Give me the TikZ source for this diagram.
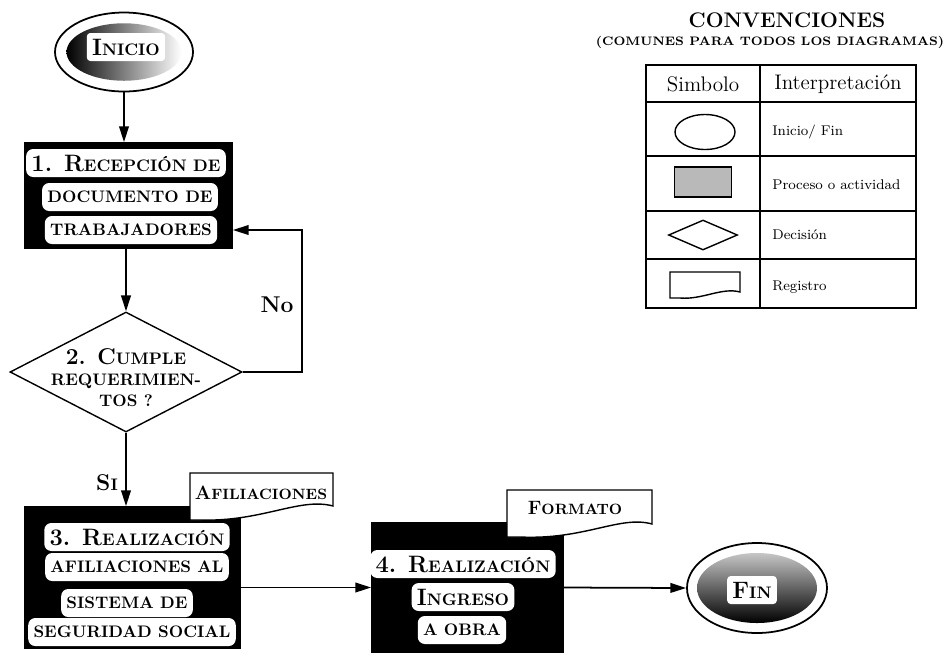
\documentclass[tikz,border=0pt]{standalone}
\usepackage{fontspec}
\usetikzlibrary{arrows.meta,shapes.geometric,fit}

% versalitas hechas a mano: mayusculas en cuerpo menor
\newcommand{\vers}[1]{{\fontsize{9.5}{11}\selectfont #1}}
\newcommand{\versd}[1]{{\fontsize{8.5}{10}\selectfont #1}}

\begin{document}
\begin{tikzpicture}[
    x=0.2mm, y=-0.2mm,
    % Cajas de proceso con fondo negro
    proceso/.style={draw=black, fill=black, inner sep=0pt, line width=1pt},
    % Renglones blancos dentro de las cajas
    renglon/.style={fill=white, rounded corners=4pt, inner xsep=3pt, inner ysep=0pt,
        minimum height=5.6mm, font=\bfseries\fontsize{13.5}{15}\selectfont},
    texto/.style={font=\bfseries\fontsize{13}{12}\selectfont, inner sep=1pt},
    terminal/.style={ellipse, draw, line width=1pt, fill=white,
        minimum width=27.6mm, minimum height=15.8mm},
    decision/.style={diamond, draw, line width=0.8pt, fill=white,
        minimum width=46.4mm, minimum height=24mm, inner sep=0pt},
    registro/.style={draw, line width=0.8pt, fill=white},
    flecha/.style={-{Triangle[length=9pt,width=5.5pt]}, line width=1pt},
    tabla/.style={line width=0.8pt},
    etiqueta/.style={font=\fontsize{8}{10}\selectfont, anchor=west, inner sep=0pt}
]
    \useasboundingbox (0,0) rectangle (945,657);

    % Inicio
    \node[terminal] (inicio) at (124,52) {};
    \node[ellipse, minimum width=23mm, minimum height=11.5mm, left color=black, right color=white] at (inicio) {};
    \node[renglon, rounded corners=2pt] (tinicio) at (126,47) {I\vers{NICIO}};

    % 1. Recepcion de documentos
    \node[proceso, fit={(25,143) (232,248)}] (p1) {};
    \node[renglon] at (126,163) {1. R\vers{ECEPCIÓN DE}};
    \node[renglon] at (130,197) {\vers{DOCUMENTO DE}};
    \node[renglon] at (131,230) {\vers{TRABAJADORES}};

    % 2. Decision
    \node[decision] (d2) at (126,372) {};
    \node[texto, align=center] (td2) at (126,378) {2. C\vers{UMPLE}\\ \vers{REQUERIMIEN-}\\ \vers{TOS ?}};

    % 3. Afiliaciones
    \node[proceso, fit={(25,507) (240,648)}] (p3) {};
    \node[renglon] at (137,537) {3. R\vers{EALIZACIÓN}};
    \node[renglon] at (137,567) {\vers{AFILIACIONES AL}};
    \node[renglon] at (127,603) {\vers{SISTEMA DE}};
    \node[renglon] at (132,632) {\vers{SEGURIDAD SOCIAL}};

    % registro de afiliaciones
    \draw[registro] (190,473) -- (333,473) -- (333,506)
        .. controls (300,497) and (262,522) .. (200,520) -- (190,520) -- cycle;
    \node[texto, font=\bfseries\fontsize{11}{12}\selectfont] (afil) at (261,493) {A\versd{FILIACIONES}};

    % 4. Ingreso a obra
    \node[proceso, fit={(372,523) (563,652)}] (p4) {};
    \node[renglon] at (463,564) {4. R\vers{EALIZACIÓN}};
    \node[renglon] at (463,597) {I\vers{NGRESO}};
    \node[renglon] at (462,630) {\vers{A OBRA}};

    % registro formato
    \draw[registro] (507,490) -- (652,490) -- (652,524)
        .. controls (620,515) and (585,540) .. (520,537) -- (507,537) -- cycle;
    \node[texto, font=\bfseries\fontsize{11}{12}\selectfont] (form) at (575,508) {F\versd{ORMATO}};

    % Fin
    \node[terminal, minimum width=28mm, minimum height=18mm] (fin) at (757,588) {};
    \node[ellipse, minimum width=24mm, minimum height=14mm, top color=gray!45, bottom color=black] at (fin) {};
    \node[renglon, rounded corners=2pt] (tfin) at (752,590) {F\vers{IN}};

    % Conectores
    \draw[flecha] (inicio.south) -- (inicio.south |- p1.north);
    \draw[flecha] (p1.south -| d2.north) -- (d2.north);
    \coordinate (retorno) at (302,230);
    \draw[flecha] (d2.east) -| (retorno) -- (retorno -| p1.east);
    \node[texto] (no) at (277,305) {No};
    \draw[flecha] (d2.south) -- (d2.south |- p3.north);
    \node[texto] (si) at (107,483) {S\vers{I}};
    \draw[flecha] (p3.east |- p4.west) -- (p4.west);
    \draw[flecha] (p4.east) -- (fin.west);

    % Convenciones
    \node[font=\bfseries\fontsize{12}{14}\selectfont] (conv) at (787,20) {CONVENCIONES};
    \node[font=\bfseries\fontsize{7}{9}\selectfont, inner sep=0pt] (comunes) at (770,42) {(COMUNES PARA TODOS LOS DIAGRAMAS)};

    \draw[tabla] (646,65) rectangle (916,308);
    \foreach \y in {102,156,211,259}
        \draw[tabla] (646,\y) -- (916,\y);
    \draw[tabla] (760,65) -- (760,308);
    \node[font=\fontsize{12}{14}\selectfont] (hsim) at (703,84) {Simbolo};
    \node[font=\fontsize{12}{14}\selectfont] (hint) at (838,84) {Interpretación};

    \node[ellipse, draw, line width=0.8pt, minimum width=12mm, minimum height=7mm] (s1) at (705,132) {};
    \node[etiqueta] (e1) at (772,132) {Inicio/ Fin};
    \node[rectangle, draw, line width=0.8pt, fill=gray!55, minimum width=11.4mm, minimum height=6mm] (s2) at (703,182) {};
    \node[etiqueta] (e2) at (772,185) {Proceso o actividad};
    \node[diamond, draw, line width=0.8pt, minimum width=13.8mm, minimum height=6mm, inner sep=0pt] (s3) at (703,235) {};
    \node[etiqueta] (e3) at (772,235) {Decisión};
    \draw[registro] (670,272) -- (740,272) -- (740,292)
        .. controls (722,287) and (702,300) .. (680,298) -- (670,298) -- cycle;
    \node[etiqueta] (e4) at (772,287) {Registro};
\end{tikzpicture}
\end{document}
